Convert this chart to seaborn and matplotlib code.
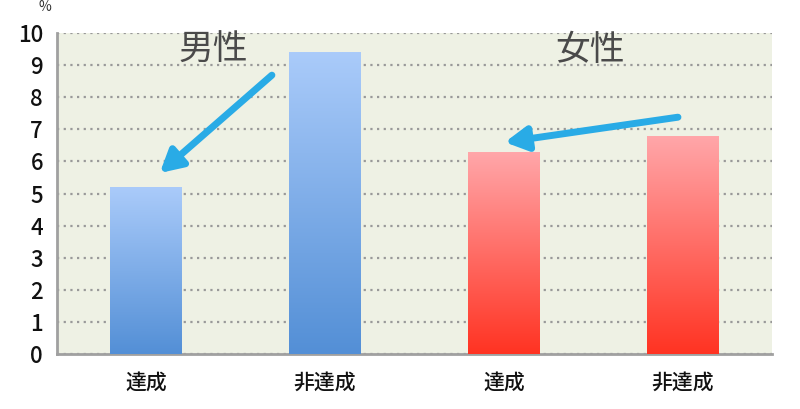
import matplotlib
matplotlib.use("Agg")
import matplotlib.pyplot as plt
import seaborn as sns
import numpy as np
import pandas as pd
from matplotlib.colors import LinearSegmentedColormap

groups = ["男性", "男性", "女性", "女性"]
status = ["達成", "非達成", "達成", "非達成"]
values = [5.2, 9.4, 6.3, 6.8]
keys = [g + s for g, s in zip(groups, status)]
df = pd.DataFrame({"key": keys, "group": groups, "status": status, "value": values})

sns.set_theme(style="white")
plt.rcParams["font.family"] = ["Noto Sans CJK JP", "DejaVu Sans"]

fig = plt.figure(figsize=(8, 4.09), dpi=100)
ax = fig.add_axes([0.071, 0.1345, 0.894, 0.7845])
ax.set_facecolor("#eef1e4")

sns.barplot(data=df, x="key", y="value", hue="group", dodge=False,
            palette={"男性": "#7aaae6", "女性": "#ff6f66"}, width=0.4,
            legend=False, ax=ax, zorder=3)

grad = {"男性": ("#538fd6", "#aacbfa"), "女性": ("#ff3322", "#ffa7aa")}
bar_groups = [p for p in ax.patches if p.get_height() > 0]
bar_groups.sort(key=lambda p: p.get_x())
for p, g in zip(bar_groups, groups):
    x0, y0, w, h = p.get_x(), p.get_y(), p.get_width(), p.get_height()
    cmap = LinearSegmentedColormap.from_list("g", list(grad[g]))
    img = np.linspace(0, 1, 256).reshape(-1, 1)
    im = ax.imshow(img, extent=[x0, x0 + w, y0, y0 + h], origin="lower",
                   cmap=cmap, aspect="auto", zorder=4)
    im.set_clip_path(p)
    p.set_edgecolor("none")

ax.set_xlim(-0.5, 3.5)
ax.set_ylim(0, 10)
ax.set_yticks(range(0, 11))
ax.set_xticks(range(4))
ax.set_xticklabels(status, fontsize=15, color="#111111", fontweight="medium")
ax.set_xticks([-0.5, 0.5, 1.5, 2.5, 3.5], minor=True)
ax.tick_params(axis="x", which="major", length=0, pad=13)
ax.tick_params(axis="x", which="minor", length=6, width=1.5, color="#999999", direction="out")
ax.tick_params(axis="y", length=6, width=1.5, color="#999999", direction="out", labelsize=16,
               labelcolor="#111111", pad=4)
for t in ax.get_yticklabels():
    t.set_fontweight("medium")
ax.set_xlabel("")
ax.set_ylabel("")
ax.yaxis.grid(True, linestyle=(0, (1, 2)), color="#999999", linewidth=1.6, zorder=0)
ax.set_axisbelow(True)
for s in ["top", "right"]:
    ax.spines[s].set_visible(False)
for s in ["left", "bottom"]:
    ax.spines[s].set_color("#a0a0a0")
    ax.spines[s].set_linewidth(2)

ax.text(0.373, 9.47, "男性", fontsize=25, color="#4a4a4a", ha="center", va="center", zorder=6)
ax.text(2.48, 9.47, "女性", fontsize=25, color="#4a4a4a", ha="center", va="center", zorder=6)

arrow_kw = dict(arrowstyle="-|>,head_length=1.1,head_width=0.6", color="#29abe6",
                lw=5, shrinkA=0, shrinkB=0)
ax.annotate("", xy=(0.076, 5.64), xytext=(0.703, 8.69), arrowprops=arrow_kw, zorder=7)
ax.annotate("", xy=(2.006, 6.60), xytext=(2.974, 7.38), arrowprops=arrow_kw, zorder=7)

fig.text(45 / 800, 1 - 7 / 409, "%", fontsize=10, color="#333333", ha="center", va="center")

fig.savefig("out.png", dpi=100)
